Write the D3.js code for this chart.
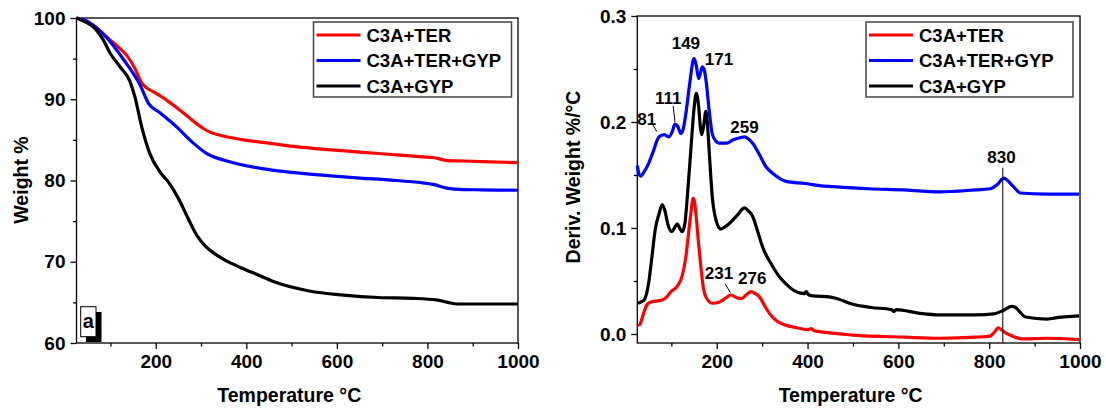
<!DOCTYPE html>
<html>
<head>
<meta charset="utf-8">
<script src="https://cdn.jsdelivr.net/npm/d3@7"></script>
<style>
  body { margin: 0; background: #fff; }
  svg text { font-family: "Liberation Sans", Arial, sans-serif; font-weight: bold; fill: #000; }
</style>
</head>
<body>
<div id="chart"></div>
<script>
// TG curves: [temperature, weight %]
var tgTer = [[25,100],[45,99.7],[62,99.1],[99,97.3],[120,96.3],[136,95.4],[154,93.8],[169,92],[180,91.4],[195,90.9],[224,89.9],[250,88.8],[270,87.9],[290,87.0],[305,86.4],[320,85.95],[340,85.6],[394,85],[450,84.6],[504,84.2],[580,83.8],[651,83.5],[720,83.2],[790,82.9],[815,82.8],[845,82.45],[880,82.4],[940,82.3],[1000,82.2]];
var tgTerGyp = [[25,100],[45,99.7],[62,99.1],[99,97.1],[130,94.8],[150,93.2],[165,91.8],[184,89.5],[210,88.3],[246,86.6],[283,84.6],[313,83.3],[357,82.4],[431,81.5],[500,81],[580,80.6],[651,80.3],[720,80.05],[790,79.7],[815,79.5],[840,79.1],[860,78.95],[920,78.85],[1000,78.8]];
var tgGyp = [[25,100],[45,99.5],[62,98.9],[84,97.3],[99,95.7],[121,94],[143,92.2],[154,90.3],[169,86.6],[187,83.3],[210,81.0],[228,79.8],[250,77.8],[270,75.5],[290,73.3],[310,71.9],[330,71.0],[350,70.3],[387,69.3],[425,68.4],[463,67.5],[539,66.4],[615,65.9],[691,65.6],[768,65.5],[820,65.3],[845,65],[867,64.8],[920,64.8],[1000,64.8]];

// DTG curves: [temperature, deriv. weight %/°C]
var dtgTer = [[27,0.0094],[30,0.0085],[35,0.014],[40,0.021],[47,0.028],[54,0.030],[65,0.031],[80,0.032],[90,0.035],[99,0.040],[113,0.045],[124,0.055],[132,0.073],[138,0.095],[143,0.114],[148,0.128],[151,0.125],[154,0.114],[160,0.085],[165,0.0635],[170,0.045],[176,0.035],[190,0.029],[205,0.030],[220,0.034],[231,0.0368],[245,0.034],[255,0.0335],[265,0.037],[276,0.040],[285,0.038],[294,0.035],[305,0.027],[316,0.0195],[330,0.013],[345,0.0094],[382,0.0054],[400,0.004],[408,0.005],[415,0.003],[426,0.0022],[500,-0.001],[614,-0.003],[692,-0.004],[771,-0.003],[802,-0.002],[812,0.002],[820,0.0057],[827,0.004],[834,0.0016],[849,-0.0016],[873,-0.0047],[927,-0.004],[998,-0.0054]];
var dtgTerGyp = [[25,0.159],[28,0.152],[32.5,0.149],[40,0.153],[50,0.161],[60,0.172],[73,0.186],[84,0.188],[95,0.186],[102,0.191],[108,0.198],[114,0.196],[121,0.189],[126,0.193],[132,0.208],[140,0.235],[150,0.260],[155,0.253],[160,0.241],[164,0.246],[168,0.252],[172,0.250],[177,0.237],[183,0.212],[190,0.189],[198,0.182],[205,0.180],[222,0.180],[235,0.183],[250,0.185],[261,0.186],[270,0.184],[279,0.180],[293,0.170],[308,0.158],[325,0.151],[353,0.144],[394,0.142],[426,0.140],[457,0.139],[535,0.137],[614,0.136],[692,0.134],[771,0.136],[802,0.137],[818,0.141],[832,0.147],[840,0.145],[849,0.141],[860,0.136],[868,0.133],[927,0.132],[998,0.132]];
var dtgGyp = [[25,0.029],[32,0.030],[40,0.032],[50,0.048],[57,0.072],[65,0.100],[72,0.112],[80,0.122],[86,0.116],[92,0.104],[101,0.0965],[108,0.101],[113,0.104],[118,0.100],[124,0.0965],[130,0.105],[137,0.140],[144,0.180],[150,0.213],[155,0.227],[160,0.215],[164,0.195],[167,0.188],[171,0.196],[176,0.210],[180,0.195],[184,0.168],[190,0.130],[198,0.108],[209,0.099],[218,0.101],[227,0.104],[245,0.112],[261,0.119],[270,0.116],[279,0.111],[290,0.097],[301,0.082],[320,0.066],[338,0.054],[353,0.047],[368,0.0415],[393,0.038],[397,0.040],[402,0.037],[412,0.036],[448,0.035],[460,0.034],[500,0.028],[540,0.025],[585,0.023],[590,0.021],[595,0.023],[647,0.0195],[692,0.018],[771,0.018],[810,0.019],[830,0.022],[849,0.026],[858,0.025],[865,0.022],[880,0.016],[927,0.014],[943,0.015],[998,0.017]];

var seriesNames = ['C3A+TER', 'C3A+TER+GYP', 'C3A+GYP'];
var seriesColors = ['#ff0000', '#0000ff', '#000000'];

var xTicks = [200, 400, 600, 800, 1000];
var xMinor = [100, 300, 500, 700, 900];
var tgTicks = [60, 70, 80, 90, 100];
var tgMinor = [65, 75, 85, 95];
var dtgTicks = [0.0, 0.1, 0.2, 0.3];
var dtgMinor = [0.05, 0.15, 0.25];

// peak labels: [text, T, D] and leader lines [T1, D1, T2, D2]
var peakLabels = [['81',46,0.203],['111',93,0.223],['149',132,0.275],['171',205,0.260],['259',261,0.195],['231',205,0.0575],['276',278,0.053],['830',827,0.167]];
var leaders = [[57,0.199,68,0.191],[104,0.215,108,0.200],[219,0.047,230,0.039]];

var width = 1106, height = 409;

var svg = d3.select('#chart').append('svg')
    .attr('width', width)
    .attr('height', height);

function panel(opts) {
  var x = d3.scaleLinear().domain([25, 1000]).range([opts.left, opts.right]);
  var y = d3.scaleLinear().domain(opts.yDomain).range([343, opts.top]);
  var g = svg.append('g');

  // frame
  g.append('rect')
      .attr('x', opts.left).attr('y', opts.top)
      .attr('width', opts.right - opts.left).attr('height', 343 - opts.top)
      .attr('fill', 'none').attr('stroke', '#000').attr('stroke-width', 1.3);

  g.append('g').attr('transform', 'translate(0,343)')
      .call(d3.axisBottom(x).tickValues(xTicks).tickSize(6).tickSizeOuter(0).tickPadding(6)
        .tickFormat(d3.format('d')));
  g.append('g').attr('transform', 'translate(0,343)')
      .call(d3.axisBottom(x).tickValues(xMinor).tickSize(3.5).tickSizeOuter(0).tickFormat(''));
  g.append('g').attr('transform', 'translate(' + opts.left + ',0)')
      .call(d3.axisLeft(y).tickValues(opts.yTicks).tickSize(6).tickSizeOuter(0).tickPadding(5)
        .tickFormat(opts.fmt));
  g.append('g').attr('transform', 'translate(' + opts.left + ',0)')
      .call(d3.axisLeft(y).tickValues(opts.yMinor).tickSize(3.5).tickSizeOuter(0).tickFormat(''));
  g.selectAll('.domain').remove();
  g.selectAll('.tick line').attr('stroke-width', 1.3);
  g.selectAll('.tick text').style('font-size', '19px');

  var line = d3.line()
      .x(function(d) { return x(d[0]); })
      .y(function(d) { return y(d[1]); })
      .curve(d3.curveMonotoneX);

  opts.data.forEach(function(s, i) {
    g.append('path')
        .datum(s)
        .attr('d', line)
        .attr('fill', 'none')
        .attr('stroke', seriesColors[i])
        .attr('stroke-width', 3.2)
        .attr('stroke-linejoin', 'round');
  });

  // axis titles
  g.append('text')
      .attr('x', (opts.left + opts.right) / 2 - 8)
      .attr('y', 402)
      .attr('text-anchor', 'middle')
      .style('font-size', '19.5px')
      .text('Temperature \u00B0C');
  g.append('text')
      .attr('transform', 'translate(' + opts.titleX + ',' + opts.titleY + ') rotate(-90)')
      .attr('text-anchor', 'middle')
      .style('font-size', '19.5px')
      .text(opts.yTitle);

  // legend
  var lg = g.append('g').attr('transform', 'translate(' + opts.legX + ',22)');
  lg.append('rect')
      .attr('width', opts.legW).attr('height', 75)
      .attr('fill', '#fff').attr('stroke', '#444').attr('stroke-width', 1.5);
  seriesNames.forEach(function(name, i) {
    var yy = 13 + i * 25.5;
    lg.append('line')
        .attr('x1', 3).attr('x2', 47).attr('y1', yy).attr('y2', yy)
        .attr('stroke', seriesColors[i]).attr('stroke-width', 3.2);
    lg.append('text')
        .attr('x', 53).attr('y', yy).attr('dy', '0.36em')
        .style('font-size', '18.5px')
        .text(name);
  });

  return {x: x, y: y, g: g};
}

var left = panel({
  left: 76.5, right: 518, top: 18,
  yDomain: [60, 100], yTicks: tgTicks, yMinor: tgMinor,
  fmt: d3.format('d'),
  data: [tgTer, tgTerGyp, tgGyp],
  yTitle: 'Weight %', titleX: 28, titleY: 180,
  legX: 313.5, legW: 198
});

var right = panel({
  left: 637.3, right: 1080, top: 16,
  yDomain: [-0.0085, 0.3], yTicks: dtgTicks, yMinor: dtgMinor,
  fmt: d3.format('.1f'),
  data: [dtgTer, dtgTerGyp, dtgGyp],
  yTitle: 'Deriv. Weight %/\u00B0C', titleX: 580, titleY: 177,
  legX: 866, legW: 207
});

// "a" panel tag
left.g.append('rect').attr('x', 86).attr('y', 312).attr('width', 15.5).attr('height', 30).attr('fill', '#000');
left.g.append('rect').attr('x', 80.7).attr('y', 306.7).attr('width', 15.3).attr('height', 30)
    .attr('fill', '#fff').attr('stroke', '#000').attr('stroke-width', 1);
left.g.append('text').attr('x', 88.3).attr('y', 328).attr('text-anchor', 'middle')
    .style('font-size', '20px').text('a');

// peak annotations on the DTG panel
right.g.selectAll('text.peak').data(peakLabels).enter().append('text')
    .attr('class', 'peak')
    .attr('x', function(d) { return right.x(d[1]); })
    .attr('y', function(d) { return right.y(d[2]); })
    .attr('dy', '0.36em')
    .attr('text-anchor', 'middle')
    .style('font-size', '17px')
    .text(function(d) { return d[0]; });

right.g.selectAll('line.leader').data(leaders).enter().append('line')
    .attr('x1', function(d) { return right.x(d[0]); })
    .attr('y1', function(d) { return right.y(d[1]); })
    .attr('x2', function(d) { return right.x(d[2]); })
    .attr('y2', function(d) { return right.y(d[3]); })
    .attr('stroke', '#000').attr('stroke-width', 1);

right.g.append('line')
    .attr('x1', right.x(830)).attr('x2', right.x(830))
    .attr('y1', right.y(0.157)).attr('y2', 343)
    .attr('stroke', '#000').attr('stroke-width', 1);
</script>
</body>
</html>
